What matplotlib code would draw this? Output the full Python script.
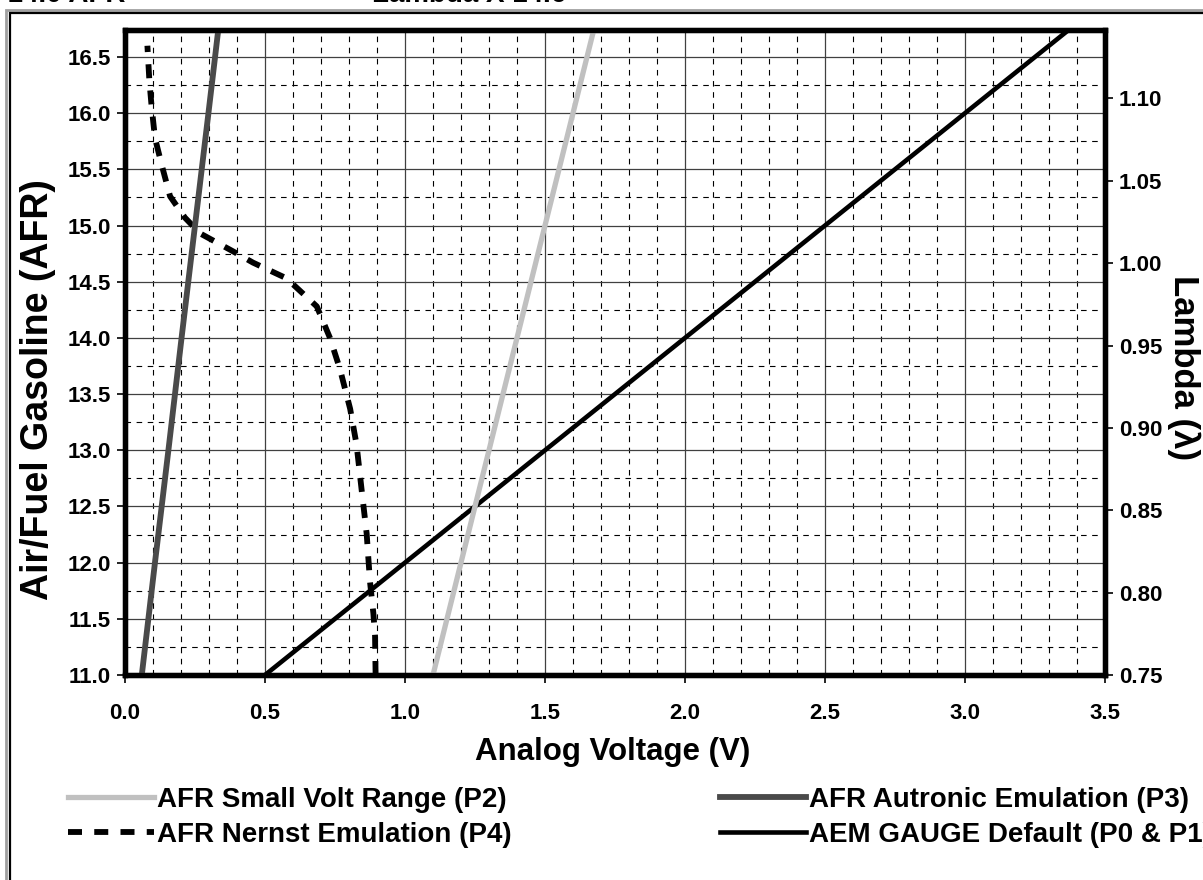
import matplotlib
matplotlib.use("Agg")
import matplotlib.pyplot as plt
from matplotlib.patches import Rectangle
from matplotlib.ticker import MultipleLocator, FormatStrFormatter

plt.rcParams['font.family'] = ['Liberation Sans', 'DejaVu Sans']
plt.rcParams['font.weight'] = 'bold'

# ---- data ----
small_volt_v = [1.10, 1.20, 1.30, 1.40, 1.50, 1.60, 1.674]
small_volt_afr = [11.0, 12.0, 13.0, 14.0, 15.0, 16.0, 16.74]

autronic_v = [0.060, 0.107, 0.155, 0.202, 0.250, 0.298, 0.333]
autronic_afr = [11.0, 12.0, 13.0, 14.0, 15.0, 16.0, 16.74]

nernst_v = [0.895, 0.893, 0.887, 0.875, 0.863, 0.845, 0.827, 0.804, 0.768, 0.732,
            0.685, 0.577, 0.457, 0.386, 0.268, 0.214, 0.161, 0.131, 0.107, 0.095,
            0.087, 0.080]
nernst_afr = [11.0, 11.35, 11.55, 11.83, 12.26, 12.65, 13.05, 13.37, 13.72, 14.0,
              14.28, 14.53, 14.67, 14.77, 14.93, 15.07, 15.26, 15.54, 15.78, 16.06,
              16.29, 16.6]

aem_v = [0.5, 1.0, 1.5, 2.0, 2.5, 3.0, 3.37]
aem_afr = [11.0, 12.0, 13.0, 14.0, 15.0, 16.0, 16.74]

x_ticks = [0.0, 0.5, 1.0, 1.5, 2.0, 2.5, 3.0, 3.5]
afr_ticks = [11.0, 11.5, 12.0, 12.5, 13.0, 13.5, 14.0, 14.5, 15.0, 15.5, 16.0, 16.5]
lambda_ticks = [0.75, 0.80, 0.85, 0.90, 0.95, 1.00, 1.05, 1.10]

labels = ["AFR Small Volt Range (P2)", "AFR Autronic Emulation (P3)",
          "AFR Nernst Emulation (P4)", "AEM GAUGE Default (P0 & P1)"]

W, H = 1203, 880
fig = plt.figure(figsize=(W / 100, H / 100), dpi=100)

# outer chart border (cut at right/bottom)
fig.patches.append(Rectangle((6 / W, -0.1), 1.2, 1 - 10 / H + 0.1, transform=fig.transFigure,
                             fill=False, edgecolor='#a0a0a0', lw=2.0, zorder=0))
fig.patches.append(Rectangle((9.5 / W, -0.1), 1.2, 1 - 13.5 / H + 0.1, transform=fig.transFigure,
                             fill=False, edgecolor='black', lw=1.6, zorder=0))

L, R, T, B = 125, 1105, 30, 675
ax = fig.add_axes([L / W, 1 - B / H, (R - L) / W, (B - T) / H])
ymin, ymax = 11.0, 16.74
ax.set_xlim(0, 3.5)
ax.set_ylim(ymin, ymax)

ax.xaxis.set_minor_locator(MultipleLocator(0.1))
ax.yaxis.set_minor_locator(MultipleLocator(0.25))
ax.set_xticks(x_ticks)
ax.set_yticks(afr_ticks)
ax.xaxis.set_major_formatter(FormatStrFormatter('%.1f'))
ax.yaxis.set_major_formatter(FormatStrFormatter('%.1f'))

ax.grid(which='major', color='#404040', lw=0.9, ls='-')
ax.grid(which='minor', color='black', lw=0.8, ls=(0, (5, 5)))
ax.set_axisbelow(True)

ax.tick_params(which='minor', length=0)
ax.tick_params(axis='x', which='major', direction='out', length=6, width=1.2, pad=14, labelsize=16)
ax.tick_params(axis='y', which='major', direction='out', length=6, width=1.2, pad=4, labelsize=16)
for s in ax.spines.values():
    s.set_linewidth(3.8)

ax.plot(nernst_v, nernst_afr, color='black', lw=4.2, ls=(0, (2.4, 2.1)), label=labels[2], zorder=3)
ax.plot(aem_v, aem_afr, color='black', lw=3.3, label=labels[3], zorder=3)
ax.plot(small_volt_v, small_volt_afr, color='#c0c0c0', lw=3.8, label=labels[0], zorder=4)
ax.plot(autronic_v, autronic_afr, color='#4a4a4a', lw=4.2, label=labels[1], zorder=4)

ax2 = ax.twinx()
ax2.set_ylim(0.75, 0.75 + (ymax - ymin) / 14.66)
ax2.set_yticks(lambda_ticks)
ax2.yaxis.set_major_formatter(FormatStrFormatter('%.2f'))
ax2.tick_params(axis='y', direction='out', length=6, width=1.2, pad=4, labelsize=16)
ax2.tick_params(which='minor', length=0)
for s in ax2.spines.values():
    s.set_linewidth(3.8)

fig.text(38 / W, 1 - 390 / H, "Air/Fuel Gasoline (AFR)", rotation=90, ha='center', va='center',
         fontsize=27, fontweight='bold')
fig.text(613 / W, 1 - 752 / H, "Analog Voltage (V)", ha='center', va='center',
         fontsize=22.5, fontweight='bold')
fig.text(1184 / W, 1 - 368 / H, "Lambda (\u03bb)", rotation=270, ha='center', va='center',
         fontsize=25, fontweight='bold')

# cut-off header texts
fig.text(125 / W, 1 + 5 / H, "Stoich 14.0 AFR", ha='right', va='center', fontsize=20, fontweight='bold')
fig.text(372 / W, 1 + 5 / H, "Lambda X 14.6", ha='left', va='center', fontsize=20, fontweight='bold')

hmap = dict(zip(*reversed(ax.get_legend_handles_labels())))
leg_kw = dict(loc='upper left', frameon=False, fontsize=20, handlelength=3.1,
              handletextpad=0.1, labelspacing=0.32, borderpad=0, borderaxespad=0)
leg1 = fig.legend([hmap[labels[0]], hmap[labels[2]]], [labels[0], labels[2]],
                  bbox_to_anchor=(68 / W, 1 - 787 / H), **leg_kw)
leg2 = fig.legend([hmap[labels[1]], hmap[labels[3]]], [labels[1], labels[3]],
                  bbox_to_anchor=(720 / W, 1 - 787 / H), **leg_kw)

fig.savefig("out.png", dpi=100)
